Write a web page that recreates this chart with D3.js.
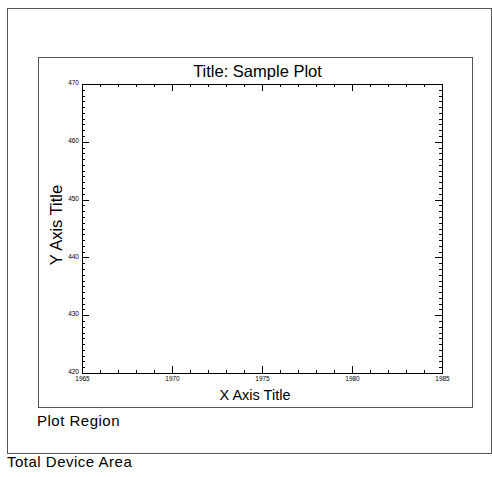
<!DOCTYPE html>
<html>
<head>
<meta charset="utf-8">
<script src="https://d3js.org/d3.v7.min.js"></script>
<style>
  body { margin: 0; background: #fff; }
  text { font-family: "Liberation Sans", Arial, sans-serif; fill: #000; }
  .axis path.domain { display: none; }
  .axis line { stroke: #000; stroke-width: 1; shape-rendering: crispEdges; }
  .axis text { font-size: 6.5px; fill: #000; }
</style>
</head>
<body>
<div id="chart"></div>
<script>
// axis ranges and ticks (no data series is plotted)
var xDomain = [1965, 1985];
var yDomain = [420, 470];
var xMajor = [1965, 1970, 1975, 1980, 1985];
var xMinor = d3.range(1965, 1986, 1);
var yMajor = [420, 430, 440, 450, 460, 470];
var yMinor = d3.range(420, 471, 1);

var chartTitle = "Title: Sample Plot",
    xTitle = "X Axis Title",
    yTitle = "Y Axis Title",
    plotLabel = "Plot Region",
    deviceLabel = "Total Device Area";

function setup() {
    var W = 492, H = 477;

    // plot data area inside the plot region
    var margin = {top: 84, right: 50, bottom: 104, left: 82},
        width = W - margin.left - margin.right,
        height = H - margin.top - margin.bottom;

    var svg = d3.select("#chart").append("svg")
        .attr("width", W)
        .attr("height", H);

    // total device area box
    svg.append("rect")
        .attr("x", 7.5).attr("y", 8.5)
        .attr("width", 484).attr("height", 445)
        .attr("fill", "none").attr("stroke", "#555");

    // plot region box
    svg.append("rect")
        .attr("x", 38.5).attr("y", 57.5)
        .attr("width", 434).attr("height", 350)
        .attr("fill", "none").attr("stroke", "#555");

    var g = svg.append("g")
        .attr("transform", "translate(" + margin.left + "," + margin.top + ")");

    var x = d3.scaleLinear().domain(xDomain).range([0, width]);
    var y = d3.scaleLinear().domain(yDomain).range([height, 0]);

    // minor ticks, all four sides, pointing in
    g.append("g").attr("class", "axis")
        .attr("transform", "translate(0," + height + ")")
        .call(d3.axisBottom(x).tickValues(xMinor).tickSize(-3).tickFormat(""));
    g.append("g").attr("class", "axis")
        .call(d3.axisTop(x).tickValues(xMinor).tickSize(-3).tickFormat(""));
    g.append("g").attr("class", "axis")
        .call(d3.axisLeft(y).tickValues(yMinor).tickSize(-3).tickFormat(""));
    g.append("g").attr("class", "axis")
        .attr("transform", "translate(" + width + ",0)")
        .call(d3.axisRight(y).tickValues(yMinor).tickSize(-3).tickFormat(""));

    // major ticks with labels on bottom and left
    g.append("g").attr("class", "axis")
        .attr("transform", "translate(0," + height + ")")
        .call(d3.axisBottom(x).tickValues(xMajor).tickSize(-7).tickPadding(3).tickFormat(d3.format("d")));
    g.append("g").attr("class", "axis")
        .call(d3.axisTop(x).tickValues(xMajor).tickSize(-7).tickFormat(""));
    var yAxis = g.append("g").attr("class", "axis")
        .call(d3.axisLeft(y).tickValues(yMajor).tickSize(-7).tickPadding(3).tickFormat(d3.format("d")));
    yAxis.selectAll("text").attr("dy", "0.1em");
    g.append("g").attr("class", "axis")
        .attr("transform", "translate(" + width + ",0)")
        .call(d3.axisRight(y).tickValues(yMajor).tickSize(-7).tickFormat(""));

    // plot frame
    g.append("rect")
        .attr("x", 0.5).attr("y", 0.5)
        .attr("width", width).attr("height", height)
        .attr("fill", "none").attr("stroke", "#000")
        .attr("shape-rendering", "crispEdges");

    // titles
    svg.append("text")
        .attr("x", 257.5).attr("y", 77)
        .attr("text-anchor", "middle")
        .style("font-size", "16.5px")
        .text(chartTitle);

    svg.append("text")
        .attr("x", 255).attr("y", 400)
        .attr("text-anchor", "middle")
        .style("font-size", "14.5px")
        .text(xTitle);

    svg.append("text")
        .attr("transform", "translate(62,225) rotate(-90)")
        .attr("text-anchor", "middle")
        .style("font-size", "16.5px")
        .text(yTitle);

    svg.append("text")
        .attr("x", 37).attr("y", 426)
        .style("font-size", "15px")
        .style("letter-spacing", "0.5px")
        .text(plotLabel);

    svg.append("text")
        .attr("x", 7).attr("y", 467)
        .style("font-size", "15px")
        .style("letter-spacing", "0.5px")
        .text(deviceLabel);
}

setup();
</script>
</body>
</html>
